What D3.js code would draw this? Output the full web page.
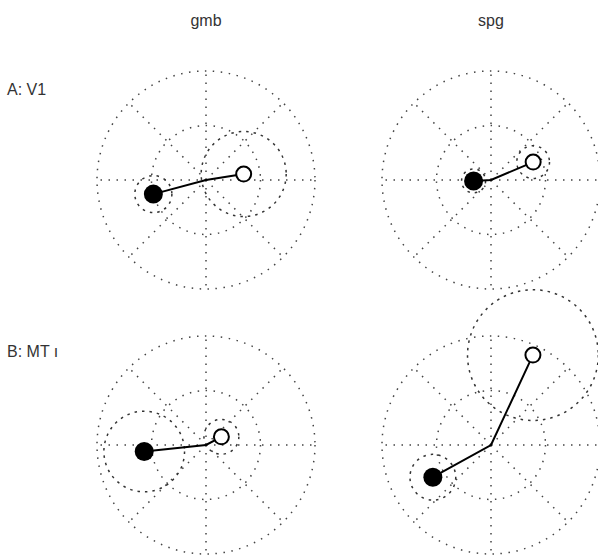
<!DOCTYPE html>
<html>
<head>
<meta charset="utf-8">
<script src="https://cdn.jsdelivr.net/npm/d3@7"></script>
<style>
  body { margin: 0; background: #fff; }
  text { font-family: "Liberation Sans", Arial, sans-serif; fill: #333; }
</style>
</head>
<body>
<div id="chart"></div>
<script>
// rows and columns
var regions = ['A: V1', 'B: MT ı'];
var animals = ['gmb', 'spg'];

// panel order: A gmb, A spg, B gmb, B spg
// polar values: angle in degrees (counter-clockwise from east), radius as fraction of outer ring
var filledAngle = [195, 183, 186, 209];
var filledRadius = [0.50, 0.16, 0.57, 0.61];
var filledError = [0.17, 0.11, 0.37, 0.21];
var openAngle = [9, 23, 28, 65];
var openRadius = [0.35, 0.42, 0.16, 0.91];
var openError = [0.39, 0.15, 0.16, 0.60];

// grid
var rings = [0.5, 1];
var spokeAngles = d3.range(0, 360, 45);

var chart_width = 598;
var chart_height = 556;
var colCenters = [206, 491];
var rowCenters = [180, 445];

var svg = d3.select('#chart')
  .append('svg')
  .attr('width', chart_width)
  .attr('height', chart_height);

var rScale = d3.scaleLinear()
  .domain([0, 1])
  .range([0, 109]);

function px(angle, r) {
  return rScale(r) * Math.cos(angle * Math.PI / 180);
}
function py(angle, r) {
  return -rScale(r) * Math.sin(angle * Math.PI / 180);
}

// column titles
svg.selectAll('.col-title')
  .data(animals)
  .enter()
  .append('text')
  .attr('class', 'col-title')
  .attr('x', (d, i) => colCenters[i])
  .attr('y', 26)
  .attr('text-anchor', 'middle')
  .attr('font-size', 16)
  .text(d => d);

// row labels
svg.selectAll('.row-title')
  .data(regions)
  .enter()
  .append('text')
  .attr('class', 'row-title')
  .attr('x', 7)
  .attr('y', (d, i) => [95, 357][i])
  .attr('font-size', 16)
  .text(d => d);

var panels = d3.range(4).map(i => ({
  row: Math.floor(i / 2),
  col: i % 2,
  fa: filledAngle[i], fr: filledRadius[i], fe: filledError[i],
  oa: openAngle[i], or: openRadius[i], oe: openError[i]
}));

var g = svg.selectAll('.panel')
  .data(panels)
  .enter()
  .append('g')
  .attr('class', 'panel')
  .attr('transform', d => 'translate(' + colCenters[d.col] + ',' + rowCenters[d.row] + ')');

// grid rings
g.selectAll('.ring')
  .data(rings)
  .enter()
  .append('circle')
  .attr('r', d => rScale(d))
  .attr('fill', 'none')
  .attr('stroke', '#444')
  .attr('stroke-width', 1.5)
  .attr('stroke-dasharray', '1.5,6.5');

// spokes
g.selectAll('.spoke')
  .data(spokeAngles)
  .enter()
  .append('line')
  .attr('x1', 0)
  .attr('y1', 0)
  .attr('x2', d => px(d, 1))
  .attr('y2', d => py(d, 1))
  .attr('stroke', '#444')
  .attr('stroke-width', 1.5)
  .attr('stroke-dasharray', '1.5,6.5');

// error circles
g.append('circle')
  .attr('cx', d => px(d.fa, d.fr))
  .attr('cy', d => py(d.fa, d.fr))
  .attr('r', d => rScale(d.fe))
  .attr('fill', 'none')
  .attr('stroke', '#333')
  .attr('stroke-width', 1.5)
  .attr('stroke-dasharray', '2.5,5');

g.append('circle')
  .attr('cx', d => px(d.oa, d.or))
  .attr('cy', d => py(d.oa, d.or))
  .attr('r', d => rScale(d.oe))
  .attr('fill', 'none')
  .attr('stroke', '#333')
  .attr('stroke-width', 1.5)
  .attr('stroke-dasharray', '2.5,5');

// vector line: filled -> origin -> open
g.append('path')
  .attr('d', d => d3.line()([
    [px(d.fa, d.fr), py(d.fa, d.fr)],
    [0, 0],
    [px(d.oa, d.or), py(d.oa, d.or)]
  ]))
  .attr('fill', 'none')
  .attr('stroke', '#000')
  .attr('stroke-width', 2);

// points
g.append('circle')
  .attr('cx', d => px(d.fa, d.fr))
  .attr('cy', d => py(d.fa, d.fr))
  .attr('r', 9.5)
  .attr('fill', '#000');

g.append('circle')
  .attr('cx', d => px(d.oa, d.or))
  .attr('cy', d => py(d.oa, d.or))
  .attr('r', 7.5)
  .attr('fill', '#fff')
  .attr('stroke', '#000')
  .attr('stroke-width', 2);
</script>
</body>
</html>
